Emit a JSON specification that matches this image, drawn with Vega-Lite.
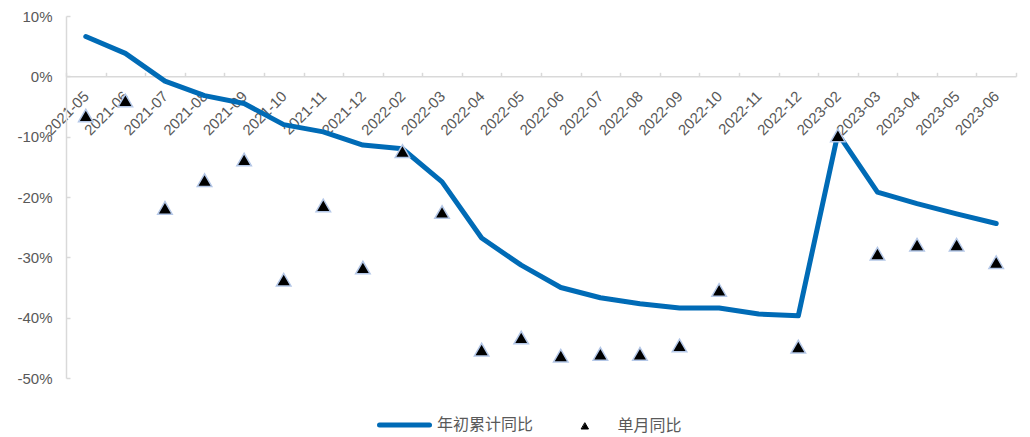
{
  "$schema": "https://vega.github.io/schema/vega-lite/v6.json",
  "width": 950,
  "height": 362,
  "autosize": {"type": "none"},
  "padding": {"left": 66, "top": 16, "right": 14, "bottom": 59},
  "background": "white",
  "config": {
    "view": {"stroke": null},
    "font": "Liberation Sans, Arial, Noto Sans CJK SC"
  },
  "data": {
    "values": [
      {"m": "2021-05", "s": "年初累计同比", "v": 6.6},
      {"m": "2021-06", "s": "年初累计同比", "v": 3.8},
      {"m": "2021-07", "s": "年初累计同比", "v": -0.8},
      {"m": "2021-08", "s": "年初累计同比", "v": -3.2},
      {"m": "2021-09", "s": "年初累计同比", "v": -4.5},
      {"m": "2021-10", "s": "年初累计同比", "v": -8.0},
      {"m": "2021-11", "s": "年初累计同比", "v": -9.2},
      {"m": "2021-12", "s": "年初累计同比", "v": -11.4},
      {"m": "2022-02", "s": "年初累计同比", "v": -12.0},
      {"m": "2022-03", "s": "年初累计同比", "v": -17.5},
      {"m": "2022-04", "s": "年初累计同比", "v": -26.8},
      {"m": "2022-05", "s": "年初累计同比", "v": -31.3},
      {"m": "2022-06", "s": "年初累计同比", "v": -35.0},
      {"m": "2022-07", "s": "年初累计同比", "v": -36.7},
      {"m": "2022-08", "s": "年初累计同比", "v": -37.7},
      {"m": "2022-09", "s": "年初累计同比", "v": -38.4},
      {"m": "2022-10", "s": "年初累计同比", "v": -38.4},
      {"m": "2022-11", "s": "年初累计同比", "v": -39.4},
      {"m": "2022-12", "s": "年初累计同比", "v": -39.7},
      {"m": "2023-02", "s": "年初累计同比", "v": -9.5},
      {"m": "2023-03", "s": "年初累计同比", "v": -19.2},
      {"m": "2023-04", "s": "年初累计同比", "v": -21.1},
      {"m": "2023-05", "s": "年初累计同比", "v": -22.8},
      {"m": "2023-06", "s": "年初累计同比", "v": -24.4},
      {"m": "2021-05", "s": "单月同比", "v": -6.5},
      {"m": "2021-06", "s": "单月同比", "v": -4.0},
      {"m": "2021-07", "s": "单月同比", "v": -21.8},
      {"m": "2021-08", "s": "单月同比", "v": -17.2},
      {"m": "2021-09", "s": "单月同比", "v": -13.8},
      {"m": "2021-10", "s": "单月同比", "v": -33.7},
      {"m": "2021-11", "s": "单月同比", "v": -21.4},
      {"m": "2021-12", "s": "单月同比", "v": -31.7},
      {"m": "2022-02", "s": "单月同比", "v": -12.4},
      {"m": "2022-03", "s": "单月同比", "v": -22.5},
      {"m": "2022-04", "s": "单月同比", "v": -45.3},
      {"m": "2022-05", "s": "单月同比", "v": -43.3},
      {"m": "2022-06", "s": "单月同比", "v": -46.3},
      {"m": "2022-07", "s": "单月同比", "v": -46.0},
      {"m": "2022-08", "s": "单月同比", "v": -46.0},
      {"m": "2022-09", "s": "单月同比", "v": -44.6},
      {"m": "2022-10", "s": "单月同比", "v": -35.4},
      {"m": "2022-12", "s": "单月同比", "v": -44.8},
      {"m": "2023-02", "s": "单月同比", "v": -9.8},
      {"m": "2023-03", "s": "单月同比", "v": -29.4},
      {"m": "2023-04", "s": "单月同比", "v": -27.9},
      {"m": "2023-05", "s": "单月同比", "v": -27.9},
      {"m": "2023-06", "s": "单月同比", "v": -30.8}
    ]
  },
  "encoding": {
    "x": {
      "field": "m",
      "type": "ordinal",
      "sort": "ascending",
      "scale": {"type": "band", "paddingInner": 0, "paddingOuter": 0},
      "axis": {
        "title": null,
        "orient": "bottom",
        "offset": -301.7,
        "labelAngle": -45,
        "labelAlign": "right",
        "labelBaseline": "middle",
        "labelPadding": 21,
        "tickSize": -4,
        "tickBand": "extent",
        "tickColor": "#d9d9d9",
        "tickWidth": 1.5,
        "domainColor": "#d9d9d9",
        "domainWidth": 1.5,
        "labelFontSize": 15,
        "labelColor": "#595959",
        "labelOverlap": false,
        "labelBound": false,
        "labelFlush": false,
        "grid": false
      }
    },
    "y": {
      "field": "v",
      "type": "quantitative",
      "scale": {"domain": [-50, 10], "nice": false, "zero": false},
      "axis": {
        "title": null,
        "values": [10, 0, -10, -20, -30, -40, -50],
        "labelExpr": "datum.value + '%'",
        "tickSize": -4,
        "tickColor": "#d9d9d9",
        "tickWidth": 1.5,
        "labelPadding": 18,
        "domainColor": "#d9d9d9",
        "domainWidth": 1.5,
        "grid": false,
        "labelFontSize": 15,
        "labelColor": "#595959"
      }
    },
    "color": {
      "field": "s",
      "type": "nominal",
      "scale": {"domain": ["年初累计同比", "单月同比"], "range": ["#006bb6", "#000000"]},
      "legend": {
        "orient": "none",
        "legendX": 311,
        "legendY": 401,
        "direction": "horizontal",
        "columns": 2,
        "title": null,
        "padding": 0,
        "symbolSize": 2500,
        "symbolStrokeWidth": 5,
        "symbolOffset": 19.5,
        "labelFontSize": 16,
        "labelColor": "#595959",
        "labelOffset": 24.5,
        "columnPadding": 23.5,
        "encode": {
          "symbols": {
            "update": {
              "shape": {"signal": "datum.value === '单月同比' ? 'M0,-0.12L0.14,0.12L-0.14,0.12Z' : 'stroke'"},
              "size": {"value": 2500},
              "fill": {"signal": "datum.value === '单月同比' ? '#000000' : 'transparent'"},
              "stroke": {"signal": "datum.value === '单月同比' ? '#b4c7e7' : '#006bb6'"},
              "strokeWidth": {"signal": "datum.value === '单月同比' ? 1 : 5"},
              "strokeCap": {"value": "round"},
              "opacity": {"value": 1}
            }
          }
        }
      }
    }
  },
  "layer": [
    {
      "transform": [{"filter": "datum.s === '年初累计同比'"}],
      "mark": {"type": "line", "strokeWidth": 5, "strokeCap": "round", "strokeJoin": "round"}
    },
    {
      "transform": [{"filter": "datum.s === '单月同比'"}],
      "mark": {"type": "point", "shape": "triangle-up", "filled": true, "size": 210, "stroke": "#b4c7e7", "strokeWidth": 1.5, "opacity": 1}
    }
  ]
}
